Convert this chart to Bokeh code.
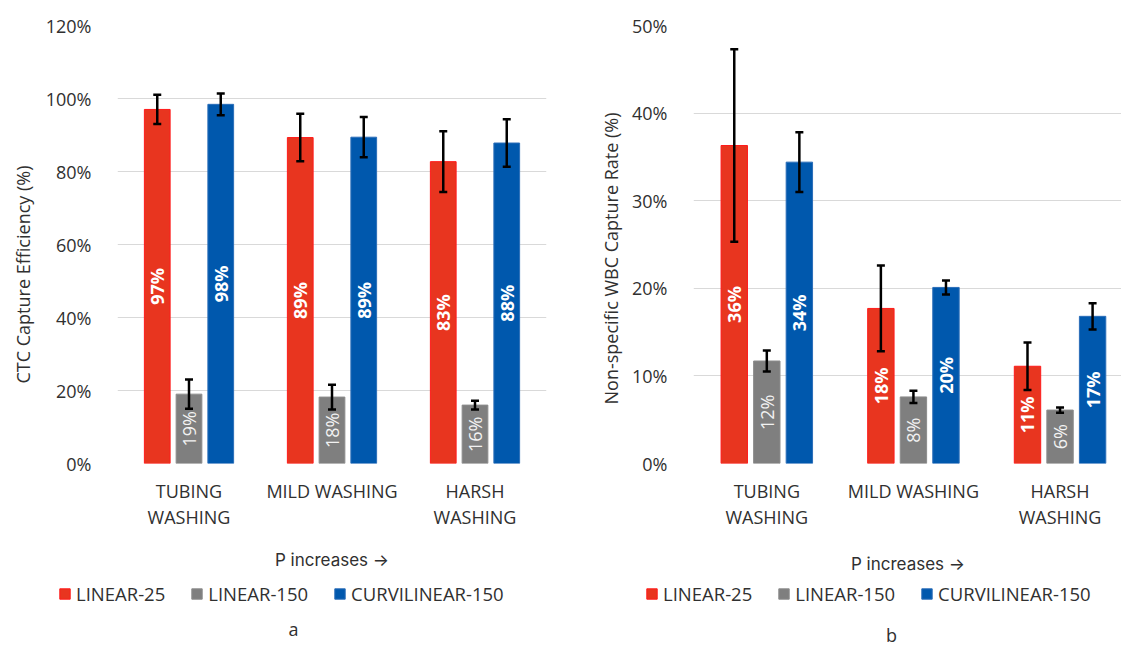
from math import pi

from bokeh.embed import file_html
from bokeh.core.properties import value
from bokeh.layouts import column, row
from bokeh.models import (ColumnDataSource, FixedTicker, Label, Legend, LegendItem,
                          NumeralTickFormatter, Range1d, TeeHead, Title, Whisker)
from bokeh.plotting import figure
from bokeh.resources import INLINE

# ---- data -------------------------------------------------------------
categories = ["TUBING\nWASHING", "MILD WASHING", "HARSH\nWASHING"]
series_names = ["LINEAR-25", "LINEAR-150", "CURVILINEAR-150"]

# (a) CTC capture efficiency, fraction
ctc_linear25 = [0.970, 0.893, 0.827]
ctc_linear150 = [0.190, 0.182, 0.160]
ctc_curvi150 = [0.984, 0.894, 0.878]
ctc_err_linear25 = [0.040, 0.065, 0.083]
ctc_err_linear150 = [0.040, 0.034, 0.012]
ctc_err_curvi150 = [0.030, 0.055, 0.065]

# (b) non-specific WBC capture rate, fraction
wbc_linear25 = [0.363, 0.177, 0.111]
wbc_linear150 = [0.117, 0.076, 0.061]
wbc_curvi150 = [0.344, 0.201, 0.168]
wbc_err_linear25 = [0.110, 0.049, 0.027]
wbc_err_linear150 = [0.012, 0.007, 0.003]
wbc_err_curvi150 = [0.034, 0.008, 0.015]

ctc_ticks = [0.0, 0.2, 0.4, 0.6, 0.8, 1.0, 1.2]
wbc_ticks = [0.0, 0.1, 0.2, 0.3, 0.4, 0.5]

# ---- styling ----------------------------------------------------------
FONT = "Open Sans"
TEXT = "#303030"
FILLS = ["#E8351F", "#7F7F7F", "#0058AD"]
EDGES = ["#FF1A1A", "#8C8C8C", "#2A6DB8"]
LABEL_COLORS = ["white", "#F2F2F2", "white"]
LABEL_STYLES = ["bold", "normal", "bold"]
OFFSETS = [-0.222, 0.0, 0.222]
BAR_W = 0.18
group_x = [0.5, 1.5, 2.5]
FOOT_H = 65  # height of the strip holding legend and panel letter


def build(series, errors, y_max, ticks, y_title, x_end, border_left, border_right,
          title_offset, title_standoff, xlabel_standoff):
    p = figure(frame_width=429, frame_height=438,
               min_border_left=border_left, min_border_right=border_right,
               min_border_top=25, min_border_bottom=117,
               x_range=Range1d(0, x_end), y_range=Range1d(0, y_max),
               output_backend="svg", toolbar_location=None,
               background_fill_color="white", border_fill_color="white")
    p.outline_line_color = None
    p.xgrid.grid_line_color = None
    p.ygrid.grid_line_color = "#D9D9D9"
    p.ygrid.grid_line_width = 1
    p.ygrid.ticker = FixedTicker(ticks=ticks)

    p.yaxis.ticker = FixedTicker(ticks=ticks)
    p.yaxis.formatter = NumeralTickFormatter(format="0%")
    p.xaxis.ticker = FixedTicker(ticks=group_x)
    p.xaxis.major_label_overrides = {gx: c for gx, c in zip(group_x, categories)}
    for ax in (p.xaxis, p.yaxis):
        ax.axis_line_color = None
        ax.major_tick_line_color = None
        ax.minor_tick_line_color = None
        ax.major_label_text_font = FONT
        ax.major_label_text_font_size = "18px"
        ax.major_label_text_color = TEXT
    p.yaxis.major_label_standoff = 20
    p.xaxis.major_label_standoff = 9
    p.xaxis.major_label_text_line_height = 1.1
    p.xaxis.axis_label = "P increases \u2192"
    p.xaxis.axis_label_text_font = "Inter"
    p.xaxis.axis_label_text_font_size = "17px"
    p.xaxis.axis_label_text_font_style = "normal"
    p.xaxis.axis_label_text_color = TEXT
    p.xaxis.axis_label_standoff = xlabel_standoff

    for i, (vals, errs) in enumerate(zip(series, errors)):
        xs = [g + OFFSETS[i] for g in group_x]
        src = ColumnDataSource(dict(
            x=xs, top=vals, mid=[v / 2 for v in vals],
            upper=[v + e for v, e in zip(vals, errs)],
            lower=[v - e for v, e in zip(vals, errs)],
            label=[f"{round(v * 100)}%" for v in vals]))
        p.vbar(x="x", top="top", width=BAR_W, source=src,
               fill_color=FILLS[i], line_color=EDGES[i], line_width=1)
        p.text(x="x", y="mid", text="label", source=src, angle=pi / 2,
               text_align="center", text_baseline="middle",
               text_font=value(FONT), text_font_size="18px",
               text_font_style=LABEL_STYLES[i], text_color=LABEL_COLORS[i])
        w = Whisker(source=src, base="x", upper="upper", lower="lower",
                    line_color="black", line_width=2.5, level="overlay",
                    upper_head=TeeHead(size=8, line_width=2.5, line_color="black"),
                    lower_head=TeeHead(size=8, line_width=2.5, line_color="black"))
        p.add_layout(w)

    # vertical axis title, shifted along the axis from the frame's bottom edge
    p.add_layout(Title(text=y_title, align="left", offset=title_offset,
                       standoff=title_standoff, text_font=FONT,
                       text_font_size="18px", text_font_style="normal",
                       text_color=TEXT), "left")
    return p


def footer(series, width, legend_x, letter, letter_x, letter_y):
    """Strip under a chart with the series legend and the panel letter."""
    f = figure(width=width, height=FOOT_H, min_border=0,
               x_range=Range1d(0, width), y_range=Range1d(0, FOOT_H),
               x_axis_type=None, y_axis_type=None,
               output_backend="svg", toolbar_location=None,
               background_fill_color="white", border_fill_color="white")
    f.outline_line_color = None
    f.grid.visible = False
    items = []
    for i, (name, vals) in enumerate(zip(series_names, series)):
        # hidden copy of the series, only used to paint its legend swatch
        swatch = f.vbar(x=group_x, top=vals, width=BAR_W, visible=False,
                        fill_color=FILLS[i], line_color=EDGES[i], line_width=1)
        items.append(LegendItem(label=name, renderers=[swatch]))
    f.add_layout(Legend(items=items, orientation="horizontal", location=(legend_x, 39),
                        glyph_width=13, glyph_height=13, label_height=20,
                        label_standoff=5, spacing=25, padding=0, margin=0,
                        click_policy="none", inactive_fill_alpha=0,
                        border_line_color=None, background_fill_alpha=0,
                        label_text_font=FONT, label_text_font_size="18.5px",
                        label_text_color=TEXT))
    f.add_layout(Label(x=letter_x, y=letter_y, x_units="screen", y_units="screen",
                       text=letter, text_align="center", text_baseline="middle",
                       text_font=FONT, text_font_size="18px", text_color=TEXT))
    return f


ctc_series = [ctc_linear25, ctc_linear150, ctc_curvi150]
wbc_series = [wbc_linear25, wbc_linear150, wbc_curvi150]

p_ctc = build(ctc_series, [ctc_err_linear25, ctc_err_linear150, ctc_err_curvi150],
              1.2, ctc_ticks, "CTC Capture Efficiency (%)", 3.0, 116, 15,
              80, 16, 18)
p_wbc = build(wbc_series, [wbc_err_linear25, wbc_err_linear150, wbc_err_curvi150],
              0.5, wbc_ticks, "Non-specific WBC Capture Rate (%)", 2.926, 132, 0,
              59, 14, 22)

f_ctc = footer(ctc_series, 560, 58, "a", 293, 17)
f_wbc = footer(wbc_series, 561, 85, "b", 331, 11)

layout = column(row(p_ctc, p_wbc), row(f_ctc, f_wbc))
open("out.html", "w").write(file_html(layout, INLINE))
